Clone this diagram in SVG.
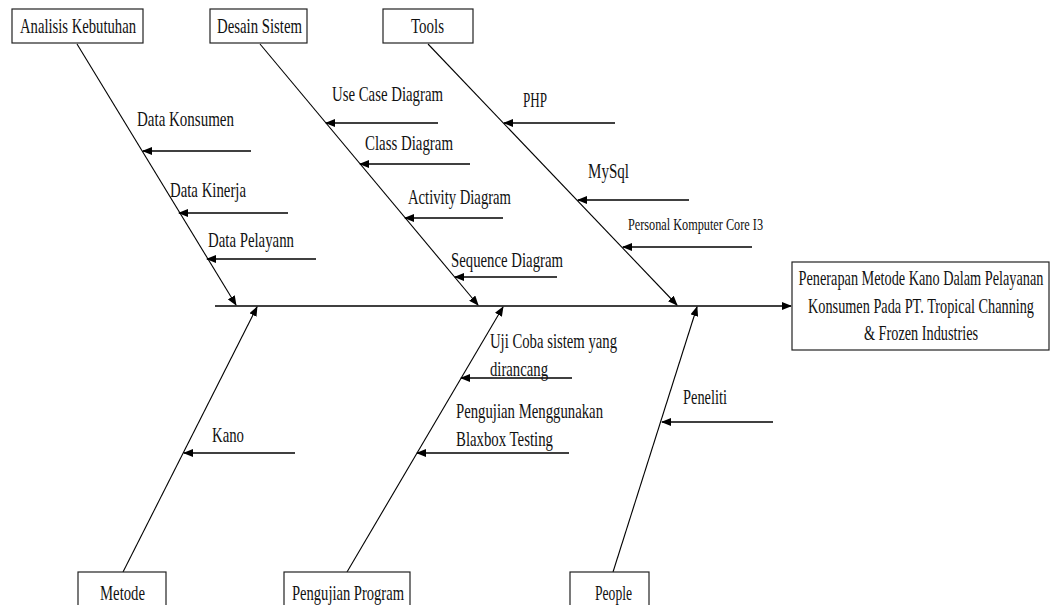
<svg xmlns="http://www.w3.org/2000/svg" width="1051" height="605" viewBox="0 0 1051 605">
<style>
.box{fill:#fff;stroke:#222;stroke-width:1.2}
.t{font-family:"Liberation Serif","Times New Roman",serif;font-size:21px;fill:#111}
.ts{font-family:"Liberation Serif","Times New Roman",serif;font-size:16px;fill:#111}
.bone{stroke:#000;stroke-width:1.1;fill:none}
.rib{stroke:#000;stroke-width:1.6;fill:none}
.main{stroke:#000;stroke-width:1.6;fill:none}
</style>
<defs>
<marker id="ah" markerUnits="userSpaceOnUse" markerWidth="10" markerHeight="8" refX="9" refY="4" orient="auto">
<path d="M0,0 L10,4 L0,8 z" fill="#000"/>
</marker>
</defs>
<rect width="1051" height="605" fill="#fff"/>
<g id="connectors">
<line class="main" x1="215" y1="306" x2="791" y2="306" marker-end="url(#ah)"/>
<line class="bone" x1="77" y1="44" x2="236" y2="305" marker-end="url(#ah)"/>
<line class="bone" x1="260" y1="44" x2="478" y2="305" marker-end="url(#ah)"/>
<line class="bone" x1="428" y1="44" x2="677" y2="305" marker-end="url(#ah)"/>
<line class="bone" x1="123" y1="572" x2="257" y2="307" marker-end="url(#ah)"/>
<line class="bone" x1="347" y1="572" x2="503" y2="307" marker-end="url(#ah)"/>
<line class="bone" x1="613" y1="572" x2="697" y2="307" marker-end="url(#ah)"/>
<line class="rib" x1="251" y1="151" x2="143" y2="151" marker-end="url(#ah)"/>
<line class="rib" x1="288" y1="213" x2="179" y2="213" marker-end="url(#ah)"/>
<line class="rib" x1="316" y1="259" x2="207" y2="259" marker-end="url(#ah)"/>
<line class="rib" x1="438" y1="123" x2="326" y2="123" marker-end="url(#ah)"/>
<line class="rib" x1="470" y1="164" x2="360" y2="164" marker-end="url(#ah)"/>
<line class="rib" x1="503" y1="218" x2="405" y2="218" marker-end="url(#ah)"/>
<line class="rib" x1="557" y1="277" x2="455" y2="277" marker-end="url(#ah)"/>
<line class="rib" x1="615" y1="123" x2="504" y2="123" marker-end="url(#ah)"/>
<line class="rib" x1="689" y1="200" x2="578" y2="200" marker-end="url(#ah)"/>
<line class="rib" x1="752" y1="247" x2="623" y2="247" marker-end="url(#ah)"/>
<line class="rib" x1="295" y1="453" x2="184" y2="453" marker-end="url(#ah)"/>
<line class="rib" x1="572" y1="378" x2="461" y2="378" marker-end="url(#ah)"/>
<line class="rib" x1="569" y1="453" x2="417" y2="453" marker-end="url(#ah)"/>
<line class="rib" x1="773" y1="422" x2="662" y2="422" marker-end="url(#ah)"/>
</g>
<g id="labels">
<text class="t" x="137" y="126" textLength="97" lengthAdjust="spacingAndGlyphs">Data Konsumen</text>
<text class="t" x="170" y="197" textLength="76" lengthAdjust="spacingAndGlyphs">Data Kinerja</text>
<text class="t" x="208" y="247" textLength="86" lengthAdjust="spacingAndGlyphs">Data Pelayann</text>
<text class="t" x="332" y="101" textLength="111" lengthAdjust="spacingAndGlyphs">Use Case Diagram</text>
<text class="t" x="365" y="150" textLength="88" lengthAdjust="spacingAndGlyphs">Class Diagram</text>
<text class="t" x="408" y="204" textLength="103" lengthAdjust="spacingAndGlyphs">Activity Diagram</text>
<text class="t" x="451" y="267" textLength="112" lengthAdjust="spacingAndGlyphs">Sequence Diagram</text>
<text class="t" x="523" y="107" textLength="24" lengthAdjust="spacingAndGlyphs">PHP</text>
<text class="t" x="588" y="178" textLength="41" lengthAdjust="spacingAndGlyphs">MySql</text>
<text class="ts" x="628" y="230" textLength="135" lengthAdjust="spacingAndGlyphs">Personal Komputer Core I3</text>
<text class="t" x="212" y="442" textLength="32" lengthAdjust="spacingAndGlyphs">Kano</text>
<text class="t" x="490" y="348" textLength="127" lengthAdjust="spacingAndGlyphs">Uji Coba sistem yang</text>
<text class="t" x="490" y="376" textLength="58" lengthAdjust="spacingAndGlyphs">dirancang</text>
<text class="t" x="456" y="418" textLength="147" lengthAdjust="spacingAndGlyphs">Pengujian Menggunakan</text>
<text class="t" x="456" y="446" textLength="97" lengthAdjust="spacingAndGlyphs">Blaxbox Testing</text>
<text class="t" x="683" y="404" textLength="44" lengthAdjust="spacingAndGlyphs">Peneliti</text>
</g>
<g id="node-analisis">
<rect class="box" x="12" y="9" width="131" height="34"/>
<text class="t" x="20" y="33" textLength="116" lengthAdjust="spacingAndGlyphs">Analisis Kebutuhan</text>
</g>
<g id="node-desain">
<rect class="box" x="210" y="9" width="97" height="34"/>
<text class="t" x="217" y="33" textLength="85" lengthAdjust="spacingAndGlyphs">Desain Sistem</text>
</g>
<g id="node-tools">
<rect class="box" x="383" y="9" width="90" height="34"/>
<text class="t" x="411" y="33" textLength="33" lengthAdjust="spacingAndGlyphs">Tools</text>
</g>
<g id="node-metode">
<rect class="box" x="78" y="572" width="88" height="40"/>
<text class="t" x="100" y="600" textLength="45" lengthAdjust="spacingAndGlyphs">Metode</text>
</g>
<g id="node-pengujian">
<rect class="box" x="284" y="572" width="126" height="40"/>
<text class="t" x="292" y="600" textLength="112" lengthAdjust="spacingAndGlyphs">Pengujian Program</text>
</g>
<g id="node-people">
<rect class="box" x="570" y="572" width="79" height="40"/>
<text class="t" x="595" y="600" textLength="37" lengthAdjust="spacingAndGlyphs">People</text>
</g>
<g id="node-effect">
<rect class="box" x="792" y="262" width="257" height="88"/>
<g transform="translate(921,0) scale(0.68,1)">
<text class="t" x="0" y="285" text-anchor="middle">Penerapan Metode Kano Dalam Pelayanan</text>
<text class="t" x="0" y="313" text-anchor="middle">Konsumen Pada PT. Tropical Channing</text>
<text class="t" x="0" y="340" text-anchor="middle">&amp; Frozen Industries</text>
</g>
</g>
</svg>
